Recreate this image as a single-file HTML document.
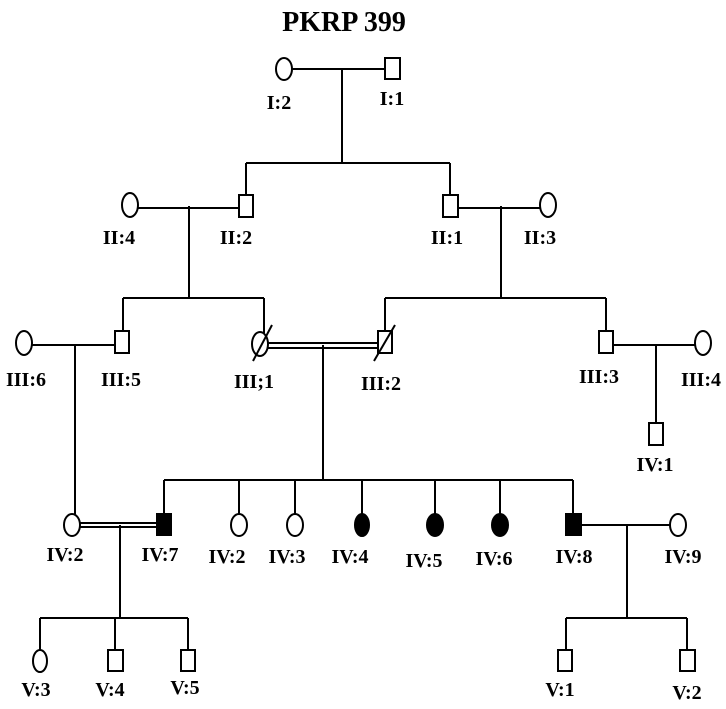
<!DOCTYPE html>
<html><head><meta charset="utf-8"><style>
html,body{margin:0;padding:0;background:#fff;}
svg{display:block;}
text{font-family:"Liberation Serif",serif;font-weight:bold;font-size:20px;text-anchor:middle;fill:#000;}
</style></head><body>
<svg width="726" height="709" viewBox="0 0 726 709" xmlns="http://www.w3.org/2000/svg">
<g stroke="#000" stroke-width="2" fill="none">
<line x1="292" y1="69" x2="385" y2="69"/>
<line x1="342" y1="69" x2="342" y2="163"/>
<line x1="246" y1="163" x2="450" y2="163"/>
<line x1="246" y1="163" x2="246" y2="195"/>
<line x1="450" y1="163" x2="450" y2="195"/>
<ellipse cx="284" cy="69" rx="8" ry="11" fill="#fff"/>
<rect x="385" y="58" width="15" height="21" fill="#fff"/>
<line x1="138" y1="208" x2="239" y2="208"/>
<line x1="189" y1="206" x2="189" y2="298"/>
<line x1="458" y1="208" x2="540" y2="208"/>
<line x1="501" y1="206" x2="501" y2="298"/>
<ellipse cx="130" cy="205" rx="8" ry="12" fill="#fff"/>
<rect x="239" y="195" width="14" height="22" fill="#fff"/>
<rect x="443" y="195" width="15" height="22" fill="#fff"/>
<ellipse cx="548" cy="205" rx="8" ry="12" fill="#fff"/>
<line x1="123" y1="298" x2="264" y2="298"/>
<line x1="123" y1="298" x2="123" y2="331"/>
<line x1="264" y1="298" x2="264" y2="333"/>
<line x1="385" y1="298" x2="606" y2="298"/>
<line x1="385" y1="298" x2="385" y2="331"/>
<line x1="606" y1="298" x2="606" y2="331"/>
<line x1="32" y1="345" x2="115" y2="345"/>
<line x1="75" y1="345" x2="75" y2="514"/>
<line x1="268" y1="343" x2="378" y2="343"/>
<line x1="268" y1="348" x2="378" y2="348"/>
<line x1="323" y1="345" x2="323" y2="480"/>
<line x1="613" y1="345" x2="695" y2="345"/>
<line x1="656" y1="345" x2="656" y2="423"/>
<ellipse cx="24" cy="343" rx="8" ry="12" fill="#fff"/>
<rect x="115" y="331" width="14" height="22" fill="#fff"/>
<ellipse cx="260" cy="344" rx="8" ry="12" fill="#fff"/>
<rect x="378" y="331" width="14" height="22" fill="#fff"/>
<rect x="599" y="331" width="14" height="22" fill="#fff"/>
<ellipse cx="703" cy="343" rx="8" ry="12" fill="#fff"/>
<line x1="253" y1="361" x2="272" y2="325"/>
<line x1="374" y1="361" x2="395" y2="325"/>
<rect x="649" y="423" width="14" height="22" fill="#fff"/>
<line x1="164" y1="480" x2="573" y2="480"/>
<line x1="164" y1="480" x2="164" y2="514"/>
<line x1="239" y1="480" x2="239" y2="514"/>
<line x1="295" y1="480" x2="295" y2="514"/>
<line x1="362" y1="480" x2="362" y2="514"/>
<line x1="435" y1="480" x2="435" y2="514"/>
<line x1="500" y1="480" x2="500" y2="514"/>
<line x1="573" y1="480" x2="573" y2="514"/>
<line x1="80" y1="523" x2="157" y2="523"/>
<line x1="80" y1="527" x2="157" y2="527"/>
<line x1="120" y1="525" x2="120" y2="618"/>
<line x1="581" y1="525" x2="670" y2="525"/>
<line x1="627" y1="525" x2="627" y2="618"/>
<ellipse cx="72" cy="525" rx="8" ry="11" fill="#fff"/>
<rect x="157" y="514" width="14" height="21" fill="#000"/>
<ellipse cx="239" cy="525" rx="8" ry="11" fill="#fff"/>
<ellipse cx="295" cy="525" rx="8" ry="11" fill="#fff"/>
<ellipse cx="362" cy="525" rx="7" ry="11" fill="#000"/>
<ellipse cx="435" cy="525" rx="8" ry="11" fill="#000"/>
<ellipse cx="500" cy="525" rx="8" ry="11" fill="#000"/>
<rect x="566" y="514" width="15" height="21" fill="#000"/>
<ellipse cx="678" cy="525" rx="8" ry="11" fill="#fff"/>
<line x1="40" y1="618" x2="188" y2="618"/>
<line x1="40" y1="618" x2="40" y2="650"/>
<line x1="115" y1="618" x2="115" y2="650"/>
<line x1="188" y1="618" x2="188" y2="650"/>
<line x1="566" y1="618" x2="687" y2="618"/>
<line x1="566" y1="618" x2="566" y2="650"/>
<line x1="687" y1="618" x2="687" y2="650"/>
<ellipse cx="40" cy="661" rx="7" ry="11" fill="#fff"/>
<rect x="108" y="650" width="15" height="21" fill="#fff"/>
<rect x="181" y="650" width="14" height="21" fill="#fff"/>
<rect x="558" y="650" width="14" height="21" fill="#fff"/>
<rect x="680" y="650" width="15" height="21" fill="#fff"/>
</g>
<text x="344" y="31" style="font-size:28px">PKRP 399</text>
<text x="279" y="109">I:2</text>
<text x="392" y="105">I:1</text>
<text x="119" y="244">II:4</text>
<text x="236" y="244">II:2</text>
<text x="447" y="244">II:1</text>
<text x="540" y="244">II:3</text>
<text x="26" y="386">III:6</text>
<text x="121" y="386">III:5</text>
<text x="254" y="388">III;1</text>
<text x="381" y="390">III:2</text>
<text x="599" y="383">III:3</text>
<text x="701" y="386">III:4</text>
<text x="655" y="471">IV:1</text>
<text x="65" y="561">IV:2</text>
<text x="160" y="561">IV:7</text>
<text x="227" y="563">IV:2</text>
<text x="287" y="563">IV:3</text>
<text x="350" y="563">IV:4</text>
<text x="424" y="567">IV:5</text>
<text x="494" y="565">IV:6</text>
<text x="574" y="563">IV:8</text>
<text x="683" y="563">IV:9</text>
<text x="36" y="696">V:3</text>
<text x="110" y="696">V:4</text>
<text x="185" y="694">V:5</text>
<text x="560" y="696">V:1</text>
<text x="687" y="699">V:2</text>
</svg>
</body></html>
